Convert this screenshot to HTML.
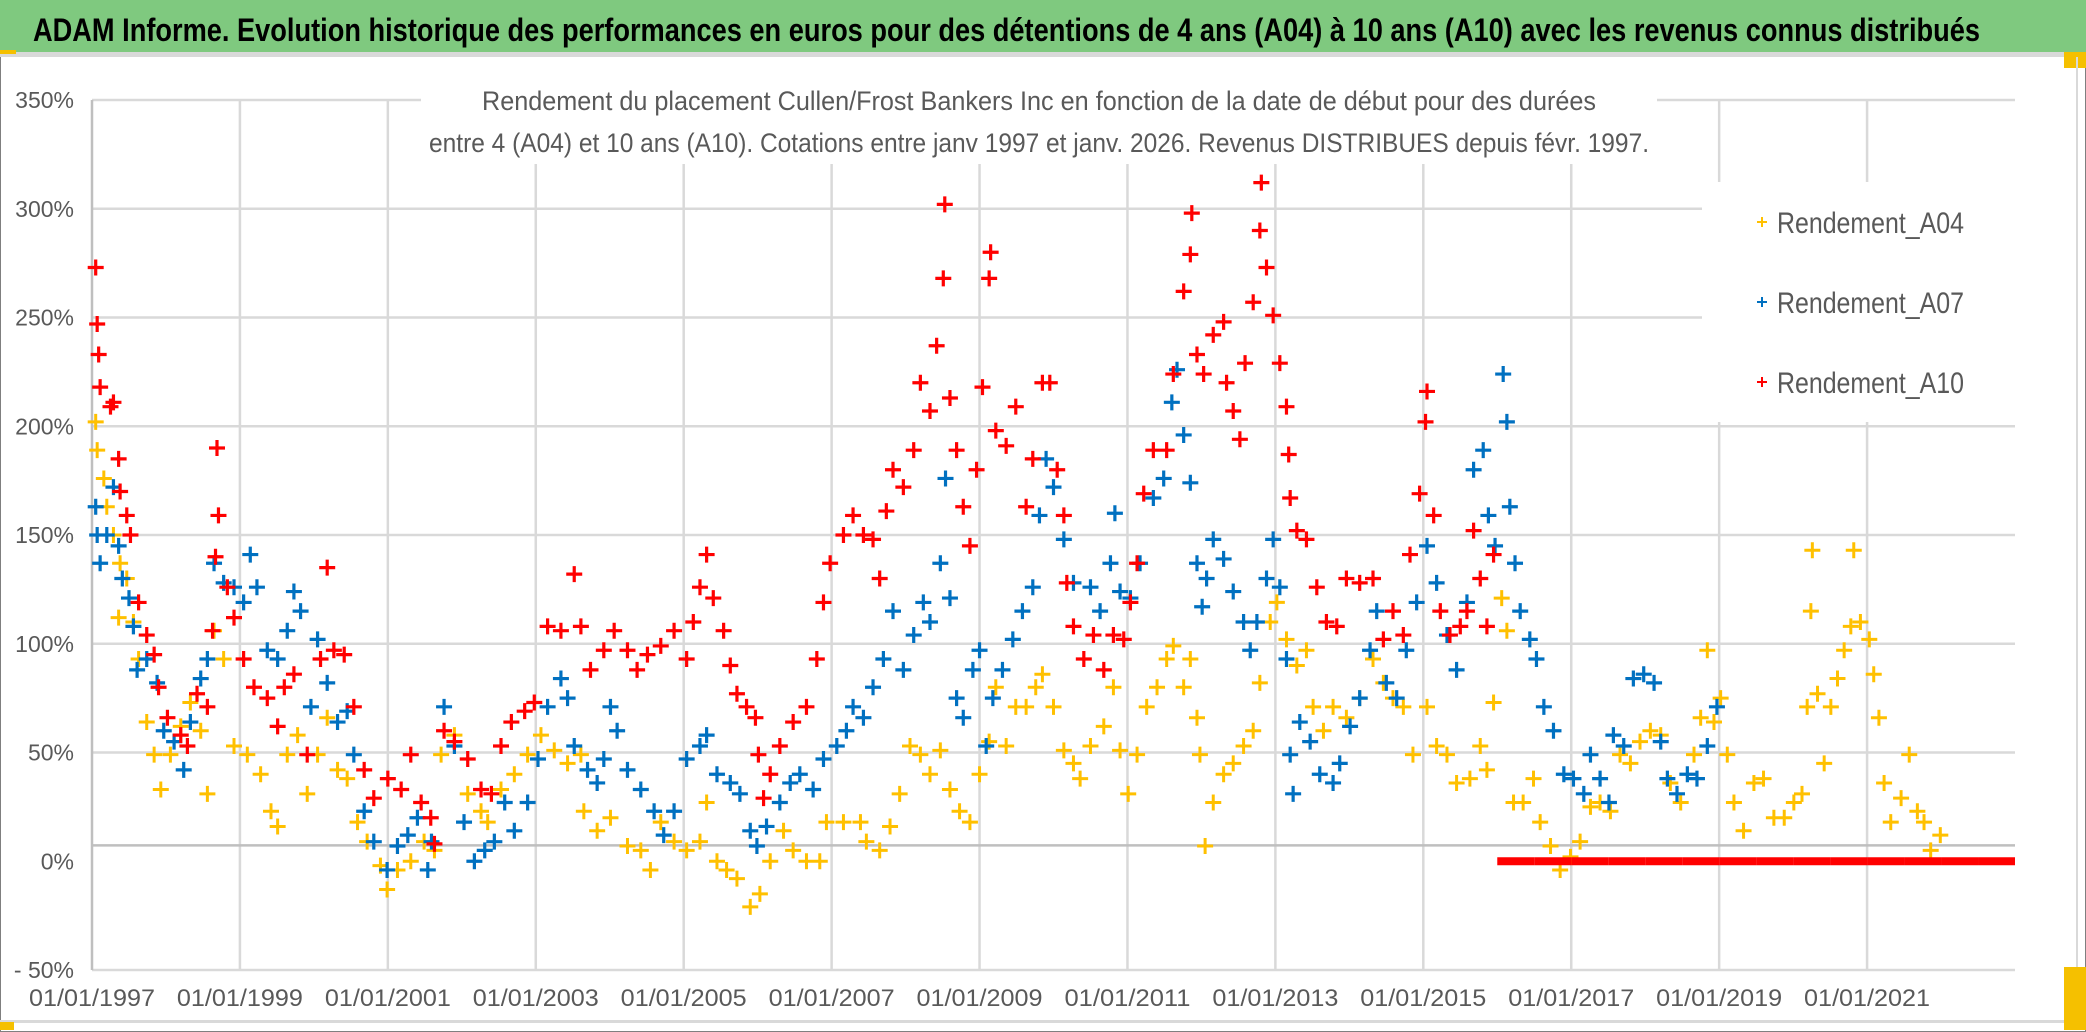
<!DOCTYPE html>
<html><head><meta charset="utf-8"><style>
html,body{margin:0;padding:0;background:#fff;}
svg{display:block;font-family:"Liberation Sans",sans-serif;}
</style></head><body>
<svg id="chart" width="2086" height="1032" viewBox="0 0 2086 1032" xmlns="http://www.w3.org/2000/svg">
<rect x="0" y="0" width="2086" height="1032" fill="#fff" stroke="#7f7f7f" stroke-width="2"/>
<rect x="0" y="0" width="2086" height="52" fill="#7fc97f"/>
<rect x="0" y="52" width="2078" height="5" fill="#d9d9d9"/>
<rect x="0" y="50" width="16" height="4" fill="#f5c000"/>
<rect x="2064" y="52" width="22" height="16" fill="#f5c000"/>
<rect x="2076" y="57" width="2" height="965" fill="#d9d9d9"/>
<rect x="0" y="1020" width="2078" height="3" fill="#d9d9d9"/>
<rect x="2064" y="967" width="22" height="63" fill="#f5c000"/>
<rect x="0" y="1022" width="14" height="8" fill="#f5c000"/>
<text x="33" y="41" font-size="32" font-weight="bold" fill="#000" textLength="1947" lengthAdjust="spacingAndGlyphs">ADAM Informe. Evolution historique des performances en euros pour des détentions de 4 ans (A04) à 10 ans (A10) avec les revenus connus distribués</text>
<g id="grid"></g>
<g id="axes"></g>
<g id="marks"></g>
<rect x="421" y="84" width="1236" height="80" fill="#fff"/>
<text x="482" y="110" font-size="27" fill="#595959" textLength="1114" lengthAdjust="spacingAndGlyphs">Rendement du placement Cullen/Frost Bankers Inc en fonction de la date de début pour des durées</text>
<text x="429" y="152" font-size="27" fill="#595959" textLength="1220" lengthAdjust="spacingAndGlyphs">entre 4 (A04) et 10 ans (A10). Cotations entre janv 1997 et janv. 2026. Revenus DISTRIBUES depuis févr. 1997.</text>
<rect x="1702" y="182" width="313" height="240" fill="#fff"/>
<g><path d="M1757 222h10M1762 217v10" stroke="#ffc000" stroke-width="2"/><text x="1777" y="233" font-size="30" fill="#595959" textLength="187" lengthAdjust="spacingAndGlyphs">Rendement_A04</text></g>
<g><path d="M1757 302h10M1762 297v10" stroke="#0070c0" stroke-width="2"/><text x="1777" y="313" font-size="30" fill="#595959" textLength="187" lengthAdjust="spacingAndGlyphs">Rendement_A07</text></g>
<g><path d="M1757 382h10M1762 377v10" stroke="#ff0000" stroke-width="2"/><text x="1777" y="393" font-size="30" fill="#595959" textLength="187" lengthAdjust="spacingAndGlyphs">Rendement_A10</text></g>
</svg>
<script>
const yTicks=[350,300,250,200,150,100,50,0,-50];
const yTickLabels=["350%","300%","250%","200%","150%","100%","50%","0%","- 50%"];
const xTicks=[1997,1999,2001,2003,2005,2007,2009,2011,2013,2015,2017,2019,2021];
const xTickLabels=["01/01/1997","01/01/1999","01/01/2001","01/01/2003","01/01/2005","01/01/2007","01/01/2009","01/01/2011","01/01/2013","01/01/2015","01/01/2017","01/01/2019","01/01/2021"];
const axisCross=7.3;
const a10Years=[1997.05,1997.07,1997.09,1997.11,1997.25,1997.29,1997.36,1997.38,1997.47,1997.52,1997.63,1997.74,1997.84,1997.9,1998.02,1998.2,1998.29,1998.42,1998.56,1998.63,1998.67,1998.69,1998.71,1998.83,1998.92,1999.05,1999.19,1999.37,1999.51,1999.6,1999.73,1999.91,2000.09,2000.18,2000.27,2000.41,2000.54,2000.68,2000.81,2001.0,2001.18,2001.31,2001.45,2001.58,2001.63,2001.76,2001.9,2002.08,2002.26,2002.4,2002.53,2002.67,2002.85,2002.98,2003.16,2003.34,2003.52,2003.61,2003.74,2003.92,2004.06,2004.24,2004.37,2004.51,2004.69,2004.87,2005.04,2005.13,2005.22,2005.31,2005.4,2005.54,2005.63,2005.72,2005.85,2005.97,2006.01,2006.08,2006.17,2006.3,2006.48,2006.66,2006.8,2006.89,2006.98,2007.16,2007.29,2007.43,2007.56,2007.65,2007.74,2007.83,2007.97,2008.11,2008.2,2008.33,2008.42,2008.51,2008.53,2008.6,2008.69,2008.78,2008.87,2008.96,2009.04,2009.13,2009.15,2009.22,2009.36,2009.49,2009.63,2009.72,2009.85,2009.95,2010.05,2010.14,2010.18,2010.27,2010.41,2010.54,2010.68,2010.81,2010.95,2011.04,2011.13,2011.22,2011.35,2011.53,2011.62,2011.76,2011.85,2011.87,2011.94,2012.03,2012.16,2012.3,2012.34,2012.43,2012.52,2012.59,2012.7,2012.79,2012.81,2012.88,2012.97,2013.06,2013.15,2013.18,2013.2,2013.29,2013.42,2013.56,2013.69,2013.83,2013.96,2014.14,2014.32,2014.46,2014.59,2014.73,2014.82,2014.95,2015.03,2015.05,2015.14,2015.23,2015.36,2015.5,2015.59,2015.68,2015.77,2015.86,2015.95];
const a10Values=[273,247,233,218,209,211,185,170,159,150,119,104,95,80,66,58,53,77,71,106,140,190,159,126,112,93,80,75,62,80,86,49,93,135,97,95,71,42,29,38,33,49,27,20,8,60,55,47,33,31,53,64,69,73,108,106,132,108,88,97,106,97,88,95,99,106,93,110,126,141,121,106,90,77,71,66,49,29,40,53,64,71,93,119,137,150,159,150,148,130,161,180,172,189,220,207,237,268,302,213,189,163,145,180,218,268,280,198,191,209,163,185,220,220,180,159,128,108,93,104,88,104,102,119,137,169,189,189,224,262,279,298,233,224,242,248,220,207,194,229,257,290,312,273,251,229,209,187,167,152,148,126,110,108,130,128,130,102,115,104,141,169,202,216,159,115,104,108,115,152,130,108,141];
const a10TailYears=[2016.0,2016.5,2017.0,2017.5,2018.0,2018.5,2019.0,2019.5,2020.0,2020.5,2021.0,2021.5,2022.0,2022.5,2023.0];
const a10TailValues=[0,0,0,0,0,0,0,0,0,0,0,0,0,0,0];
const a07Years=[1997.05,1997.07,1997.11,1997.2,1997.29,1997.36,1997.41,1997.5,1997.56,1997.61,1997.74,1997.88,1997.97,1998.11,1998.24,1998.33,1998.47,1998.56,1998.65,1998.78,1998.92,1999.05,1999.14,1999.23,1999.37,1999.51,1999.64,1999.73,1999.82,1999.96,2000.05,2000.18,2000.32,2000.45,2000.54,2000.68,2000.81,2000.99,2001.13,2001.27,2001.4,2001.54,2001.59,2001.76,2001.9,2002.03,2002.17,2002.31,2002.44,2002.58,2002.71,2002.89,2003.03,2003.16,2003.34,2003.43,2003.52,2003.7,2003.83,2003.92,2004.01,2004.1,2004.24,2004.42,2004.6,2004.73,2004.87,2005.04,2005.22,2005.31,2005.45,2005.63,2005.76,2005.9,2005.99,2006.12,2006.3,2006.44,2006.57,2006.75,2006.89,2007.07,2007.2,2007.29,2007.43,2007.56,2007.7,2007.83,2007.97,2008.11,2008.24,2008.33,2008.47,2008.54,2008.6,2008.69,2008.78,2008.91,2009.0,2009.09,2009.18,2009.31,2009.45,2009.58,2009.72,2009.81,2009.9,2010.0,2010.14,2010.27,2010.5,2010.63,2010.77,2010.83,2010.9,2011.04,2011.17,2011.35,2011.49,2011.6,2011.67,2011.76,2011.85,2011.94,2012.01,2012.07,2012.16,2012.3,2012.43,2012.57,2012.66,2012.75,2012.88,2012.97,2013.06,2013.15,2013.2,2013.24,2013.33,2013.47,2013.6,2013.78,2013.87,2014.01,2014.14,2014.28,2014.37,2014.5,2014.64,2014.77,2014.91,2015.05,2015.18,2015.32,2015.45,2015.59,2015.68,2015.81,2015.88,2015.97,2016.08,2016.13,2016.17,2016.24,2016.31,2016.44,2016.53,2016.63,2016.76,2016.9,2017.03,2017.17,2017.26,2017.39,2017.51,2017.57,2017.71,2017.84,2017.98,2018.12,2018.21,2018.3,2018.43,2018.57,2018.7,2018.84,2018.97];
const a07Values=[163,150,137,150,172,145,130,121,108,88,93,82,60,55,42,64,84,93,137,128,126,119,141,126,97,93,106,124,115,71,102,82,64,69,49,23,9,-4,7,12,20,-4,9,71,53,18,0,5,9,27,14,27,47,71,84,75,53,42,36,47,71,60,42,33,23,12,23,47,53,58,40,36,31,14,7,16,27,36,40,33,47,53,60,71,66,80,93,115,88,104,119,110,137,176,121,75,66,88,97,53,75,88,102,115,126,159,185,172,148,128,126,115,137,160,124,121,137,167,176,211,226,196,174,137,117,130,148,139,124,110,97,110,130,148,126,93,49,31,64,55,40,36,45,62,75,97,115,82,75,97,119,145,128,104,88,119,180,189,159,145,224,202,163,137,115,102,93,71,60,40,38,31,49,38,27,58,53,84,86,82,55,38,31,40,38,53,71];
const a04Years=[1997.05,1997.07,1997.16,1997.2,1997.29,1997.36,1997.38,1997.47,1997.56,1997.63,1997.74,1997.84,1997.93,1998.06,1998.2,1998.33,1998.47,1998.56,1998.65,1998.78,1998.92,1999.1,1999.28,1999.42,1999.51,1999.64,1999.78,1999.91,2000.05,2000.18,2000.32,2000.45,2000.59,2000.72,2000.9,2000.99,2001.13,2001.31,2001.49,2001.63,2001.72,2001.9,2002.08,2002.26,2002.35,2002.53,2002.71,2002.89,2003.07,2003.25,2003.43,2003.61,2003.65,2003.83,2004.01,2004.24,2004.42,2004.55,2004.69,2004.87,2005.04,2005.22,2005.31,2005.45,2005.58,2005.72,2005.9,2006.03,2006.17,2006.35,2006.48,2006.66,2006.84,2006.93,2007.16,2007.39,2007.47,2007.65,2007.79,2007.92,2008.06,2008.2,2008.33,2008.47,2008.6,2008.73,2008.87,2009.0,2009.13,2009.22,2009.36,2009.49,2009.63,2009.76,2009.85,2010.0,2010.14,2010.27,2010.36,2010.5,2010.68,2010.81,2010.9,2011.01,2011.13,2011.26,2011.4,2011.53,2011.62,2011.76,2011.85,2011.94,2011.98,2012.05,2012.16,2012.3,2012.43,2012.57,2012.7,2012.79,2012.93,2013.02,2013.15,2013.29,2013.42,2013.51,2013.65,2013.78,2013.96,2014.14,2014.32,2014.46,2014.59,2014.73,2014.86,2015.05,2015.18,2015.32,2015.45,2015.63,2015.77,2015.86,2015.95,2016.06,2016.13,2016.22,2016.35,2016.49,2016.58,2016.72,2016.85,2016.99,2017.12,2017.26,2017.39,2017.53,2017.66,2017.8,2017.93,2018.07,2018.21,2018.34,2018.48,2018.66,2018.75,2018.84,2018.93,2019.02,2019.11,2019.2,2019.33,2019.47,2019.6,2019.74,2019.88,2020.01,2020.12,2020.19,2020.24,2020.26,2020.33,2020.42,2020.51,2020.6,2020.69,2020.78,2020.82,2020.91,2021.03,2021.09,2021.16,2021.23,2021.32,2021.46,2021.57,2021.68,2021.77,2021.86,2021.99];
const a04Values=[202,189,176,163,150,112,137,130,110,93,64,49,33,49,62,73,60,31,106,93,53,49,40,23,16,49,58,31,49,66,42,38,18,9,-2,-13,-4,0,9,5,49,58,31,23,18,33,40,49,58,51,45,49,23,14,20,7,5,-4,18,9,5,9,27,0,-4,-8,-21,-15,0,14,5,0,0,18,18,18,9,5,16,31,53,49,40,51,33,23,18,40,55,80,53,71,71,80,86,71,51,45,38,53,62,80,51,31,49,71,80,93,99,80,93,66,49,7,27,40,45,53,60,82,110,119,102,90,97,71,60,71,66,75,93,82,75,71,49,71,53,49,36,38,53,42,73,121,106,27,27,38,18,7,-4,2,9,25,27,23,49,45,55,60,58,36,27,49,66,97,64,75,49,27,14,36,38,20,20,27,31,71,115,143,77,45,71,84,97,108,143,110,102,86,66,36,18,29,49,23,18,5,12];

const NS='http://www.w3.org/2000/svg';
const X0=92,X1=2015,YMIN=1997,YMAX=2023;
const YTOP=100,YBOT=970;
function xs(yr){return X0+(yr-YMIN)/(YMAX-YMIN)*(X1-X0);}
function ys(v){return YTOP+(350-v)/400*(YBOT-YTOP);}
function mk(tag,attrs,parent){const e=document.createElementNS(NS,tag);for(const k in attrs)e.setAttribute(k,attrs[k]);parent.appendChild(e);return e;}
const grid=document.getElementById('grid'),axes=document.getElementById('axes'),marks=document.getElementById('marks');
yTicks.forEach((t,i)=>{
  if(t!==0){const l=mk('line',{x1:X0,x2:X1,y1:ys(t),y2:ys(t),stroke:'#d9d9d9','stroke-width':2.5},grid);
  
  }
  const tx=mk('text',{x:74,y:ys(t)+8,'font-size':23,fill:'#595959','text-anchor':'end'},axes);
  tx.textContent=yTickLabels[i];
  
  
});
xTicks.forEach((t,i)=>{
  if(i>0){const l=mk('line',{x1:xs(t),x2:xs(t),y1:YTOP,y2:YBOT,stroke:'#d9d9d9','stroke-width':2.5},grid);
  
  }
  const tx=mk('text',{x:xs(t),y:1006,'font-size':24,fill:'#595959','text-anchor':'middle',textLength:126,lengthAdjust:'spacingAndGlyphs'},axes);
  tx.textContent=xTickLabels[i];
  
  
});
const ax=mk('line',{x1:X0,x2:X1,y1:ys(axisCross),y2:ys(axisCross),stroke:'#bfbfbf','stroke-width':2.5},axes);


const ay=mk('line',{x1:X0,x2:X0,y1:YTOP,y2:YBOT,stroke:'#bfbfbf','stroke-width':2.5},axes);


function series(years,vals,color,name,sz,sw){
  const g=mk('g',{},marks);
  
  
  let d='';
  years.forEach((yr,i)=>{const x=xs(yr),y=ys(vals[i]);d+='M'+(x-sz)+' '+y+'h'+(2*sz)+'M'+x+' '+(y-sz)+'v'+(2*sz);});
  mk('path',{d:d,stroke:color,'stroke-width':sw,fill:'none'},g);
}
series(a04Years,a04Values,'#ffc000','series-a04',8,3);
series(a07Years,a07Values,'#0070c0','series-a07',8,3.2);
series(a10Years,a10Values,'#ff0000','series-a10',8,3.2);
const tg=mk('g',{},marks);


for(let i=0;i<a10TailYears.length-1;i++){
  mk('line',{x1:xs(a10TailYears[i]),x2:xs(a10TailYears[i+1]),y1:ys(a10TailValues[i]),y2:ys(a10TailValues[i+1]),stroke:'#ff0000','stroke-width':8},tg);
}
</script>
</body></html>
